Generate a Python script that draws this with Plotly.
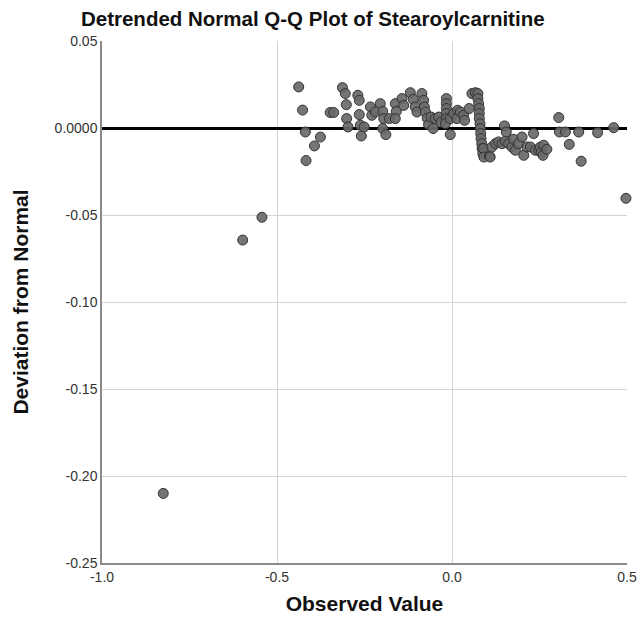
import plotly.graph_objects as go

observed = [
    -0.825, -0.598, -0.543,
    -0.438, -0.427, -0.419, -0.417, -0.393, -0.376, -0.348, -0.338,
    -0.313, -0.305, -0.302, -0.301, -0.297,
    -0.269, -0.265, -0.265, -0.262, -0.259, -0.251,
    -0.233, -0.229, -0.219, -0.205, -0.198, -0.195, -0.198, -0.189, -0.179,
    -0.162, -0.159, -0.162, -0.143, -0.138,
    -0.119, -0.111, -0.105, -0.100,
    -0.086, -0.081, -0.079, -0.076, -0.071, -0.067, -0.060, -0.054, -0.048, -0.038, -0.031,
    -0.016, -0.016, -0.016, -0.016, -0.016, -0.019, -0.005, -0.005,
    0.005, 0.016, 0.014, 0.024, 0.033, 0.036, 0.049,
    0.057, 0.067, 0.074, 0.074, 0.076, 0.078, 0.078, 0.078, 0.080, 0.081,
    0.082, 0.083, 0.085, 0.086, 0.088, 0.090, 0.091,
    0.107, 0.109, 0.114, 0.124, 0.133, 0.143, 0.150, 0.152, 0.155, 0.162,
    0.171, 0.176, 0.181, 0.190, 0.200, 0.205, 0.214, 0.224, 0.233, 0.238,
    0.248, 0.252, 0.255, 0.260, 0.262, 0.271,
    0.305, 0.307, 0.324, 0.335, 0.362, 0.369, 0.416, 0.462, 0.497,
]
deviation = [
    -0.210, -0.0644, -0.0513,
    0.0236, 0.0103, -0.0023, -0.0187, -0.0103, -0.0052, 0.0089, 0.0089,
    0.0232, 0.0198, 0.0134, 0.0054, 0.0006,
    0.0188, 0.0159, 0.0077, 0.0016, -0.0046, 0.0006,
    0.0121, 0.0073, 0.0092, 0.0140, 0.0096, 0.0054, -0.0003, -0.0038, 0.0054,
    0.0140, 0.0096, 0.0054, 0.0169, 0.0130,
    0.0203, 0.0165, 0.0121, 0.0092,
    0.0198, 0.0159, 0.0121, 0.0092, 0.0057, 0.0020, 0.0063, -0.0003, 0.0054, 0.0063, 0.0034,
    0.0169, 0.0140, 0.0112, 0.0083, 0.0054, 0.0025, -0.0038, 0.0054,
    0.0083, 0.0102, 0.0054, 0.0092, 0.0073, 0.0044, 0.0112,
    0.0198, 0.0203, 0.0198, 0.0169, 0.0140, 0.0112, 0.0083, 0.0054, 0.0025, -0.0003,
    -0.0032, -0.0061, -0.0090, -0.0118, -0.0147, -0.0118, -0.0167,
    -0.0161, -0.0167, -0.0109, -0.0090, -0.0080, -0.0090, 0.0012, -0.0076, -0.0023, -0.0090,
    -0.0109, -0.0065, -0.0128, -0.0090, -0.0052, -0.0157, -0.0109, -0.0109, -0.0032, -0.0128,
    -0.0128, -0.0110, -0.0141, -0.0157, -0.0099, -0.0122,
    0.0060, -0.0023, -0.0023, -0.0094, -0.0023, -0.0191, -0.0027, 0.0002, -0.0404,
]

y_ticks = [0.05, 0.0, -0.05, -0.10, -0.15, -0.20, -0.25]
y_tick_labels = ['0.05', '0.0000', '-0.05', '-0.10', '-0.15', '-0.20', '-0.25']
x_ticks = [-1.0, -0.5, 0.0, 0.5]
x_tick_labels = ['-1.0', '-0.5', '0.0', '0.5']

fig = go.Figure()

fig.add_trace(go.Scatter(
    x=observed, y=deviation, mode='markers',
    marker=dict(size=10, color='rgba(105,105,105,0.92)',
                line=dict(color='#333333', width=1)),
    cliponaxis=False, showlegend=False,
))

fig.update_layout(
    width=637, height=629,
    margin=dict(l=102, r=10, t=41, b=66),
    paper_bgcolor='white', plot_bgcolor='white',
    font=dict(family='Liberation Sans, Arial, sans-serif', color='#222222'),
    title=dict(text='Detrended Normal Q-Q Plot of Stearoylcarnitine',
               x=0.491, xanchor='center', y=0.97, yanchor='middle',
               font=dict(size=20.5, color='#111111', weight='bold')),
)

fig.update_xaxes(
    range=[-1.0, 0.5], tickvals=x_ticks, ticktext=x_tick_labels,
    automargin=False,
    showgrid=True, gridcolor='#d4d4d4', gridwidth=1,
    zeroline=False, showline=True, linecolor='#8a8a8a', linewidth=1.5,
    ticks='', tickfont=dict(size=14, color='#333333'),
    title=dict(text='Observed Value', standoff=13,
               font=dict(size=21, color='#111111', weight='bold')),
)
fig.update_yaxes(
    range=[-0.25, 0.05], tickvals=y_ticks, ticktext=y_tick_labels,
    automargin=False,
    showgrid=True, gridcolor='#d4d4d4', gridwidth=1,
    zeroline=True, zerolinecolor='#000000', zerolinewidth=3,
    showline=True, linecolor='#8a8a8a', linewidth=1.5,
    ticks='', tickfont=dict(size=14, color='#333333'),
    title=dict(text='Deviation from Normal', standoff=20,
               font=dict(size=21, color='#111111', weight='bold')),
)

# drop the default 8px body margin so the figure fills the window exactly
fig.write_html("out.html", config={'displayModeBar': False},
               post_script="document.body.style.margin='0';document.body.style.overflow='hidden';")
